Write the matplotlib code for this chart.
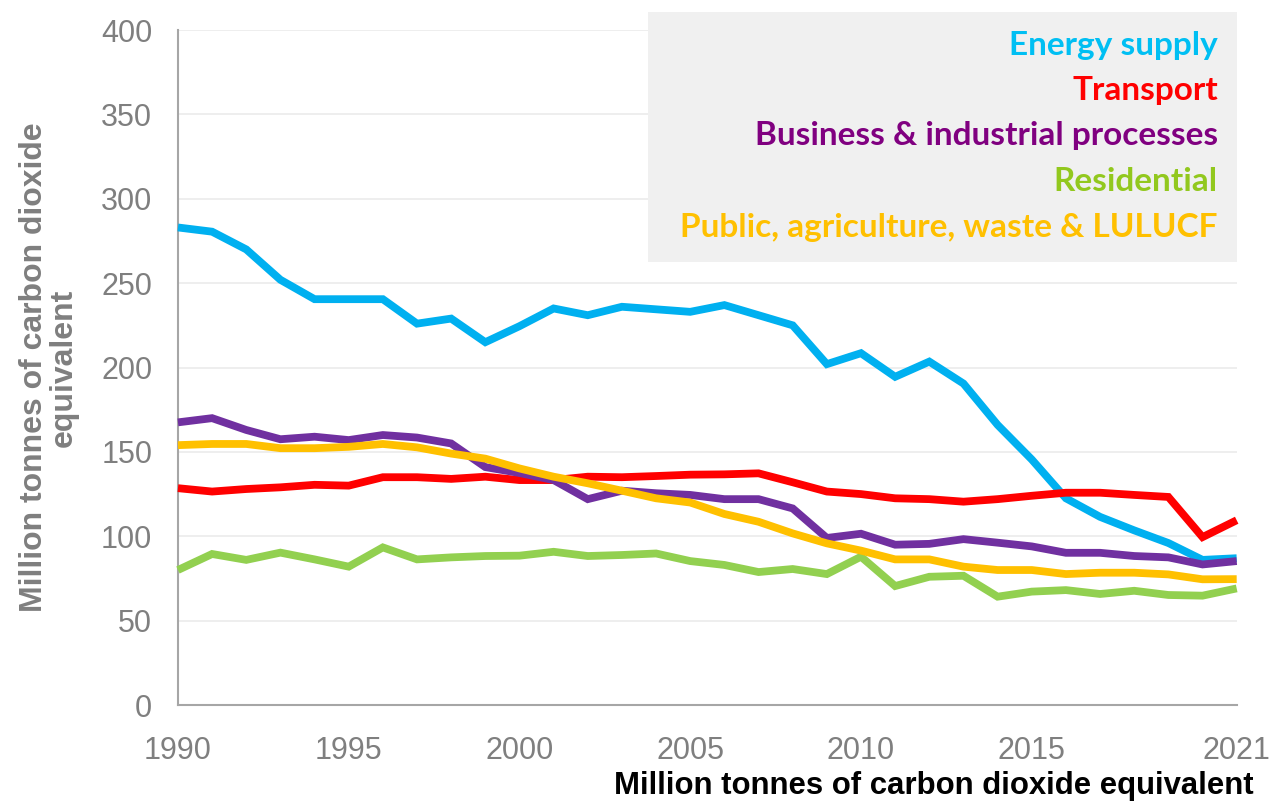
import matplotlib
matplotlib.use("Agg")
import matplotlib.pyplot as plt
from matplotlib.patches import Rectangle

years = list(range(1990, 2022))

energy_supply = [283, 280.5, 270, 252, 240.5, 240.5, 240.5, 226, 229, 215,
                 224.5, 235, 231, 236, 234.5, 233, 237, 231, 225, 202,
                 208.5, 194.5, 203.5, 190.5, 166, 145.5, 122.5, 111.5, 103.5, 96,
                 86, 87]
transport = [128.5, 126.5, 128, 129, 130.5, 130, 135, 135, 134, 135.3,
             133.3, 133.3, 135.3, 135, 135.7, 136.5, 136.7, 137.3, 132, 126.5,
             125, 122.5, 122, 120.5, 122, 124, 125.8, 125.8, 124.5, 123.3,
             99.5, 109.5]
business = [167.5, 170, 163, 157.5, 159, 157, 160, 158.5, 155, 141,
            137.5, 133.3, 122, 127, 125.5, 124.5, 122, 122, 116.5, 99,
            101.5, 95, 95.5, 98.3, 96.2, 94, 90.2, 90.2, 88.3, 87.5,
            83.3, 85.3]
residential = [80, 89.5, 86, 90.3, 86.3, 82, 93.4, 86.3, 87.5, 88.3,
               88.5, 90.8, 88.3, 88.9, 89.8, 85.3, 83, 78.8, 80.6, 77.6,
               87.9, 70.5, 76, 76.6, 64.2, 67.2, 68.1, 65.8, 67.7, 65.2,
               64.8, 69.1]
public_ag = [154, 154.7, 154.7, 152.2, 152.2, 153, 154.7, 152.7, 149, 146,
             140.2, 135.3, 131.4, 127, 122.5, 120, 113.2, 108.6, 101.7, 95.8,
             91.5, 86.3, 86.3, 82, 80, 80, 77.6, 78.4, 78.4, 77.4,
             74.5, 74.6]

series_names = ["Energy supply", "Transport", "Business & industrial processes",
                "Residential", "Public, agriculture, waste & LULUCF"]
series_values = [energy_supply, transport, business, residential, public_ag]
line_colors = ["#00B0F0", "#FF0000", "#7030A0", "#92D050", "#FFC000"]
label_colors = ["#00BFF3", "#FF0000", "#800080", "#92C81E", "#FFC000"]

x_ticks = [1990, 1995, 2000, 2005, 2010, 2015, 2021]
y_ticks = [0, 50, 100, 150, 200, 250, 300, 350, 400]

fig = plt.figure(figsize=(12.71, 8.05), dpi=100)
ax = fig.add_axes([0.140, 0.1242, 0.833, 0.8385])

for vals, col in zip(series_values, line_colors):
    ax.plot(years, vals, color=col, lw=5.6, solid_joinstyle="miter",
            solid_capstyle="butt", zorder=3, clip_on=False)

ax.set_xlim(1990, 2021)
ax.set_ylim(0, 400)
ax.set_xticks(x_ticks)
ax.set_yticks(y_ticks)
ax.tick_params(axis="both", length=0, labelsize=22, labelcolor="#7F7F7F")
ax.tick_params(axis="y", pad=18.5)
ax.tick_params(axis="x", pad=22)
for lbl in ax.get_xticklabels() + ax.get_yticklabels():
    lbl.set_fontfamily("Liberation Sans")

ax.grid(axis="y", color="#EBEBEB", lw=1.2, zorder=0)
ax.set_axisbelow(True)
for side in ["top", "right"]:
    ax.spines[side].set_visible(False)
for side in ["left", "bottom"]:
    ax.spines[side].set_color("#A6A6A6")
    ax.spines[side].set_linewidth(1.5)

ax.set_ylabel("Million tonnes of carbon dioxide\nequivalent",
              fontsize=23, fontweight="bold", color="#7F7F7F",
              family="Liberation Sans", labelpad=16, linespacing=1.0)

fig.text(0.986, 0.023, "Million tonnes of carbon dioxide equivalent",
         ha="right", va="center", fontsize=22.4, fontweight="bold",
         color="black", family="Liberation Sans")

# Key panel in the upper right
fig.patches.append(Rectangle((0.510, 0.6745), 0.4634, 0.3105,
                             transform=fig.transFigure, facecolor="#F0F0F0",
                             edgecolor="none", zorder=2))
label_y = [0.9429, 0.888, 0.832, 0.774, 0.717]
for name, col, yy in zip(series_names, label_colors, label_y):
    fig.text(0.9583, yy, name, ha="right", va="center", fontsize=24,
             fontweight="bold", color=col, family="Lato", zorder=5)

fig.savefig("out.png", dpi=100, facecolor="white")
